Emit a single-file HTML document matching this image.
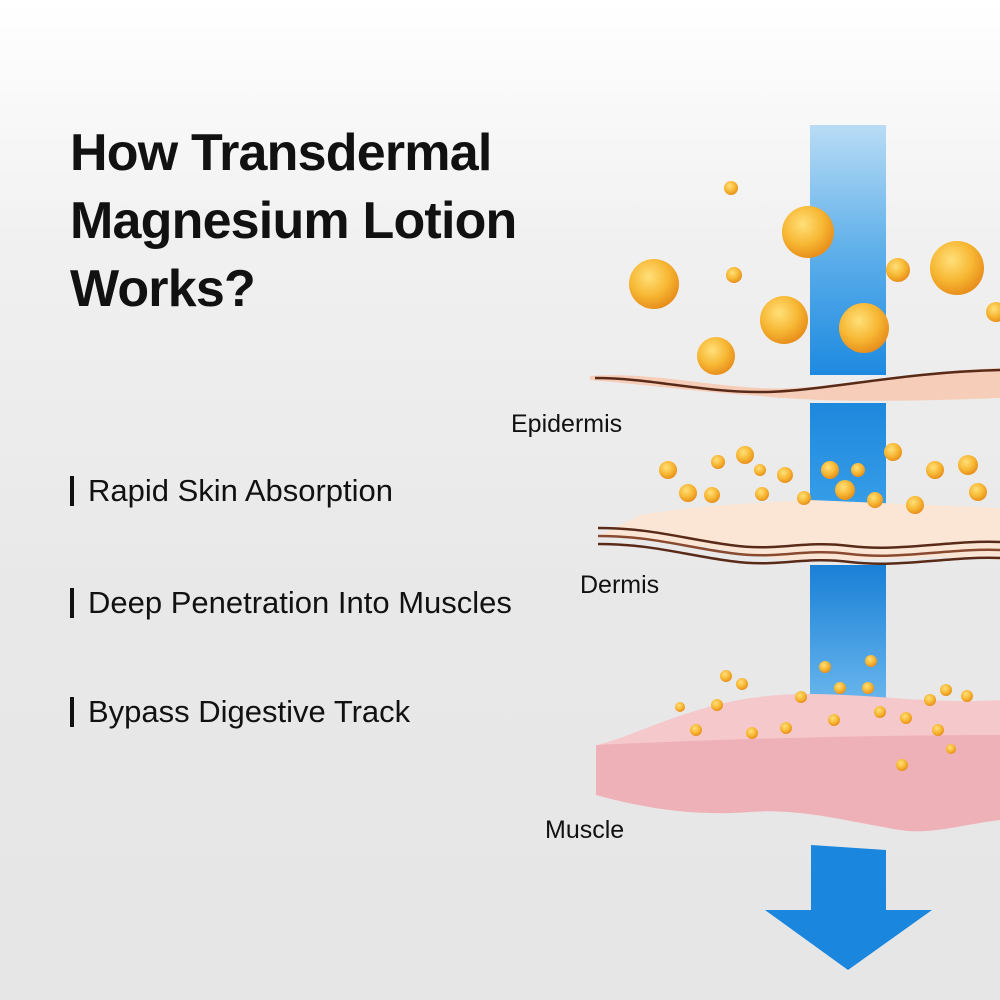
<!DOCTYPE html>
<html><head><meta charset="utf-8"><style>
html,body{margin:0;padding:0}
body{width:1000px;height:1000px;position:relative;overflow:hidden;background:linear-gradient(#ffffff 0%,#f0f0f0 25%,#e8e8e8 60%,#e6e6e6 100%);font-family:"Liberation Sans",sans-serif;color:#111}
.t{position:absolute;left:70px;top:119px;font-size:52px;font-weight:bold;line-height:68px;letter-spacing:-0.8px}
.b{position:absolute;left:70px;font-size:31px;border-left:4px solid #111;padding-left:14px;line-height:30px}
svg{position:absolute;left:0;top:0}
</style></head><body>
<div class="t">How Transdermal<br>Magnesium Lotion<br>Works?</div>
<div class="b" style="top:476px">Rapid Skin Absorption</div>
<div class="b" style="top:588px">Deep Penetration Into Muscles</div>
<div class="b" style="top:697px">Bypass Digestive Track</div>
<svg width="1000" height="1000" viewBox="0 0 1000 1000">
<defs>
<linearGradient id="bt" x1="0" y1="0" x2="0" y2="1"><stop offset="0" stop-color="#b9dcf5"/><stop offset="0.5" stop-color="#5fb0ea"/><stop offset="1" stop-color="#1e8ae0"/></linearGradient>
<linearGradient id="bm" x1="0" y1="0" x2="0" y2="1"><stop offset="0" stop-color="#1e88dc"/><stop offset="1" stop-color="#3aa0ea"/></linearGradient>
<linearGradient id="bl" x1="0" y1="0" x2="0" y2="1"><stop offset="0" stop-color="#1a80d6"/><stop offset="0.7" stop-color="#66b4ec"/><stop offset="1" stop-color="#cfe3f2" stop-opacity="0.3"/></linearGradient>
<radialGradient id="dr" cx="0.4" cy="0.35" r="0.65"><stop offset="0" stop-color="#ffe07a"/><stop offset="0.6" stop-color="#f7b733"/><stop offset="1" stop-color="#e8901c"/></radialGradient>
</defs>
<rect x="810" y="125" width="76" height="250" fill="url(#bt)"/>
<rect x="810" y="403" width="76" height="118" fill="url(#bm)"/>
<rect x="810" y="565" width="76" height="190" fill="url(#bl)"/>
<path d="M811 845 L886 850 L886 910 L932 910 L848 970 L765 910 L811 910Z" fill="#1a86dd"/>
<path d="M590 376 C650 372 700 385 760 388 C820 392 900 372 1000 368 L1000 398 C900 402 820 402 760 396 C700 392 650 385 590 380Z" fill="#f5cdb8"/>
<path d="M595 378 C650 378 700 392 760 392 C820 392 900 372 1000 370" stroke="#5a2a18" stroke-width="2.5" fill="none"/>
<path d="M640 515 C700 505 760 503 810 500 L1000 508 L1000 560 C900 552 820 568 760 556 C700 545 650 540 600 535Z" fill="#fbe6d6"/>
<path d="M598 528 C650 528 680 538 730 545 C780 552 800 540 850 546 C900 552 950 540 1000 542" stroke="#5a2a18" stroke-width="2.5" fill="none"/>
<path d="M598 536 C650 536 680 546 730 553 C780 560 800 548 850 554 C900 560 950 548 1000 550" stroke="#8a4a30" stroke-width="2.5" fill="none"/>
<path d="M598 544 C650 544 680 554 730 561 C780 568 800 556 850 562 C900 568 950 556 1000 558" stroke="#5a2a18" stroke-width="2.5" fill="none"/>
<path d="M598 745 C650 730 700 700 780 695 C850 690 920 705 1000 700 L1000 735 L598 760Z" fill="#f5c9cc"/>
<path d="M596 745 C700 740 850 735 1000 735 L1000 820 C960 825 930 835 900 830 C850 822 800 808 750 812 C700 816 650 810 596 795Z" fill="#efb1b8"/>
<g fill="url(#dr)">
<circle cx="654" cy="284" r="25"/><circle cx="808" cy="232" r="26"/><circle cx="784" cy="320" r="24"/><circle cx="864" cy="328" r="25"/><circle cx="957" cy="268" r="27"/><circle cx="716" cy="356" r="19"/><circle cx="898" cy="270" r="12"/><circle cx="734" cy="275" r="8"/><circle cx="731" cy="188" r="7"/><circle cx="996" cy="312" r="10"/>
<circle cx="668" cy="470" r="9"/><circle cx="688" cy="493" r="9"/><circle cx="718" cy="462" r="7"/><circle cx="745" cy="455" r="9"/><circle cx="712" cy="495" r="8"/><circle cx="762" cy="494" r="7"/><circle cx="785" cy="475" r="8"/><circle cx="804" cy="498" r="7"/><circle cx="830" cy="470" r="9"/><circle cx="845" cy="490" r="10"/><circle cx="858" cy="470" r="7"/><circle cx="875" cy="500" r="8"/><circle cx="893" cy="452" r="9"/><circle cx="915" cy="505" r="9"/><circle cx="935" cy="470" r="9"/><circle cx="968" cy="465" r="10"/><circle cx="978" cy="492" r="9"/><circle cx="760" cy="470" r="6"/>
<circle cx="726" cy="676" r="6"/><circle cx="742" cy="684" r="6"/><circle cx="717" cy="705" r="6"/><circle cx="680" cy="707" r="5"/><circle cx="696" cy="730" r="6"/><circle cx="752" cy="733" r="6"/><circle cx="786" cy="728" r="6"/><circle cx="801" cy="697" r="6"/><circle cx="825" cy="667" r="6"/><circle cx="871" cy="661" r="6"/><circle cx="840" cy="688" r="6"/><circle cx="868" cy="688" r="6"/><circle cx="834" cy="720" r="6"/><circle cx="880" cy="712" r="6"/><circle cx="906" cy="718" r="6"/><circle cx="930" cy="700" r="6"/><circle cx="946" cy="690" r="6"/><circle cx="967" cy="696" r="6"/><circle cx="938" cy="730" r="6"/><circle cx="902" cy="765" r="6"/><circle cx="951" cy="749" r="5"/>
</g>
<g font-family="Liberation Sans, sans-serif" font-size="25" fill="#111">
<text x="511" y="432">Epidermis</text>
<text x="580" y="593">Dermis</text>
<text x="545" y="838">Muscle</text>
</g>
</svg>
</body></html>
